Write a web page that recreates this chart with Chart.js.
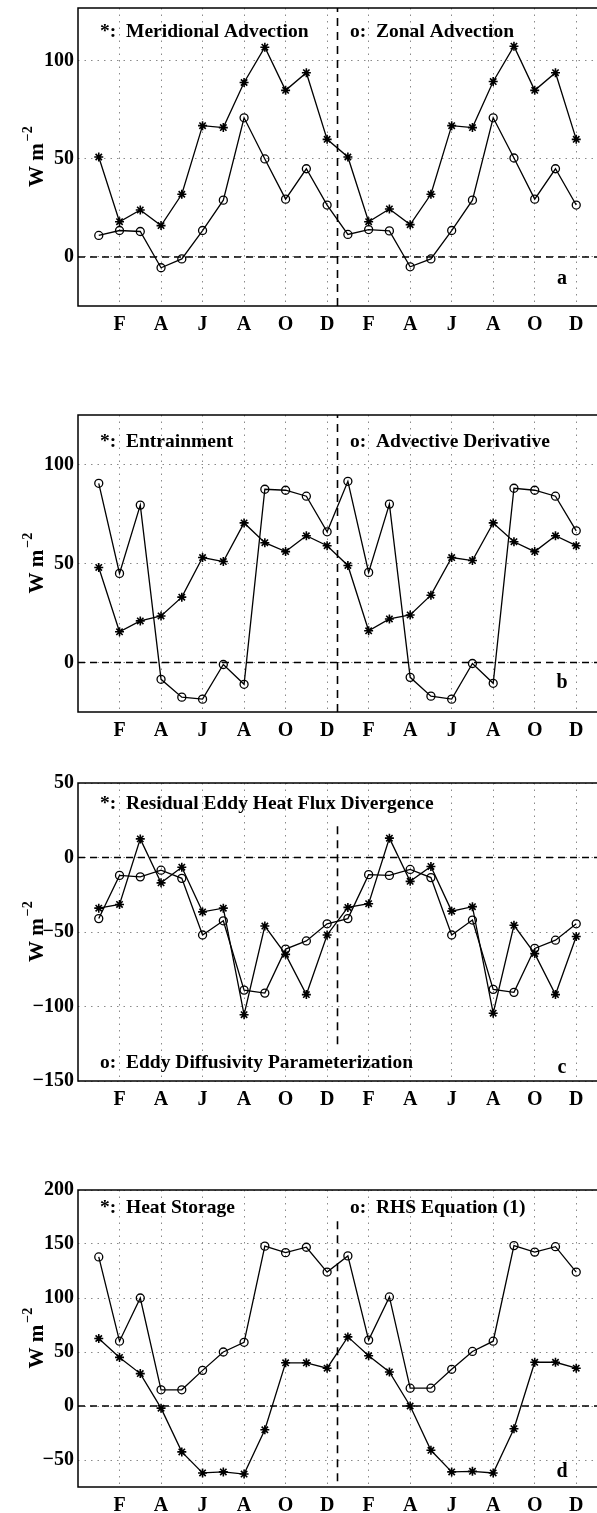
<!DOCTYPE html>
<html>
<head>
<meta charset="utf-8">
<script src="https://cdn.jsdelivr.net/npm/chart.js@4"></script>
<style>
  html, body { margin: 0; padding: 0; background: #fff; }
  body { width: 597px; height: 1513px; position: relative; overflow: hidden; }
  .panel { position: absolute; left: 0; }
</style>
</head>
<body>
<div class="panel" id="pa"><canvas id="cA"></canvas></div>
<div class="panel" id="pb"><canvas id="cB"></canvas></div>
<div class="panel" id="pc"><canvas id="cC"></canvas></div>
<div class="panel" id="pd"><canvas id="cD"></canvas></div>
<script>
// months of the two-year cycle (1 = Jan of year 1)
const months = [1, 2, 3, 4, 5, 6, 7, 8, 9, 10, 11, 12, 13, 14, 15, 16, 17, 18, 19, 20, 21, 22, 23, 24];
const xTickPos = [2, 4, 6, 8, 10, 12, 14, 16, 18, 20, 22, 24];
const xTickLabels = ["F", "A", "J", "A", "O", "D", "F", "A", "J", "A", "O", "D"];

// panel a
const meridional = [51, 18, 24, 16, 32, 67, 66, 89, 107, 85, 94, 60, 51, 18, 24.5, 16.5, 32, 67, 66, 89.5, 107.5, 85, 94, 60];
const zonal = [11, 13.5, 13, -5.5, -1, 13.5, 29, 71, 50, 29.5, 45, 26.5, 11.5, 14, 13.3, -5, -1, 13.5, 29, 71, 50.5, 29.5, 45, 26.5];
// panel b
const entrainment = [48, 15.5, 21, 23.5, 33, 53, 51, 70.5, 60.5, 56, 64, 59, 49, 16, 22, 24, 34, 53, 51.5, 70.5, 61, 56, 64, 59];
const advective = [90.5, 45, 79.5, -8.5, -17.5, -18.5, -1, -11, 87.5, 87, 84, 66, 91.5, 45.5, 80, -7.5, -17, -18.5, -0.5, -10.5, 88, 87, 84, 66.5];
// panel c
const residual = [-34, -31.5, 12.5, -17, -6.5, -36.5, -34, -105.5, -46, -65, -92, -52, -33.5, -31, 13, -16, -6, -36, -33, -104.5, -45.5, -64.5, -92, -53];
const eddyDiff = [-41, -12, -13, -8.5, -14, -52, -42.5, -89, -91, -61.5, -56, -44.5, -41, -11.5, -12, -8, -13.5, -52, -42, -88.5, -90.5, -61, -55.5, -44.5];
// panel d
const heatStorage = [62.5, 45, 30, -2, -42.5, -62, -61, -63, -22, 40, 40, 35, 64, 46.5, 31.5, 0, -41, -61, -60.5, -62, -21, 40.5, 40.5, 35];
const rhs = [138, 60, 100, 15, 15, 33, 50, 59, 148, 142, 147, 124, 139, 61, 101, 16.5, 16.5, 34, 50.5, 60, 148.5, 142.5, 147.5, 124];

const yTicksA = [0, 50, 100];
const yTicksB = [0, 50, 100];
const yTicksC = [-150, -100, -50, 0, 50];
const yTicksD = [-50, 0, 50, 100, 150, 200];

const FONT = "'Liberation Serif', 'Times New Roman', serif";
const PAD_TOP = 14, XAXIS_H = 26, YAXIS_W = 78;

function pts(vals) {
  return vals.map((v, i) => ({ x: months[i], y: v }));
}

function makePanel(id, c) {
  const canvas = document.getElementById(id);
  const h = (c.bottom - c.top) + PAD_TOP + XAXIS_H;
  canvas.width = 597;
  canvas.height = h;
  canvas.parentNode.style.top = (c.top - PAD_TOP) + "px";
  canvas.parentNode.style.width = "597px";
  canvas.parentNode.style.height = h + "px";

  const deco = {
    id: "deco" + id,
    afterDraw(chart) {
      const ctx = chart.ctx, a = chart.chartArea;
      ctx.save();
      // axes box (right side runs off the page)
      ctx.strokeStyle = "#000";
      ctx.lineWidth = 1.5;
      ctx.strokeRect(a.left, a.top, a.right - a.left + 4, a.bottom - a.top);
      // y title, W m^-2
      const cy = (a.top + a.bottom) / 2 - 5;
      ctx.translate(43, cy + 35);
      ctx.rotate(-Math.PI / 2);
      ctx.fillStyle = "#000";
      ctx.textBaseline = "alphabetic";
      ctx.textAlign = "left";
      ctx.font = "bold 21px " + FONT;
      ctx.fillText("W m", 0, 0);
      const w = ctx.measureText("W m").width;
      ctx.font = "bold 14px " + FONT;
      ctx.fillText("\u22122", w + 2, -11);
      ctx.restore();

      ctx.save();
      ctx.fillStyle = "#000";
      ctx.textBaseline = "alphabetic";
      ctx.textAlign = "left";
      ctx.font = "bold 19.5px " + FONT;
      c.notes.forEach(n => {
        const y = n.fromBottom ? a.bottom - n.dy : a.top + n.dy;
        ctx.fillText(n.text, n.x, y);
      });
      ctx.textAlign = "center";
      ctx.font = "bold 20px " + FONT;
      ctx.fillText(c.letter, 562, a.bottom - c.letterDy);
      ctx.restore();
    }
  };

  new Chart(canvas, {
    type: "line",
    data: {
      datasets: [
        {
          label: "zero",
          data: [{ x: 0, y: 0 }, { x: 25, y: 0 }],
          borderColor: "#000",
          borderWidth: 1.4,
          borderDash: [7, 5],
          pointRadius: 0
        },
        {
          label: "divider",
          data: [{ x: 12.5, y: c.divider[0] }, { x: 12.5, y: c.divider[1] }],
          borderColor: "#000",
          borderWidth: 1.6,
          borderDash: [8, 6],
          pointRadius: 0
        },
        {
          label: "star",
          data: pts(c.star),
          borderColor: "#000",
          borderWidth: 1.3,
          pointStyle: "star",
          pointRadius: 4.5,
          pointBorderWidth: 1.6,
          pointBorderColor: "#000",
          pointBackgroundColor: "#000",
          tension: 0
        },
        {
          label: "circle",
          data: pts(c.circle),
          borderColor: "#000",
          borderWidth: 1.3,
          pointStyle: "circle",
          pointRadius: 4,
          pointBorderWidth: 1.3,
          pointBorderColor: "#000",
          pointBackgroundColor: "rgba(0,0,0,0)",
          tension: 0
        }
      ]
    },
    options: {
      responsive: false,
      animation: false,
      devicePixelRatio: 1,
      layout: { autoPadding: false, padding: { top: PAD_TOP, left: 0, right: 0, bottom: 0 } },
      plugins: { legend: { display: false }, tooltip: { enabled: false } },
      scales: {
        x: {
          type: "linear",
          min: 0,
          max: 25,
          afterBuildTicks: s => { s.ticks = xTickPos.map(v => ({ value: v })); },
          afterFit: s => { s.height = XAXIS_H; s.paddingLeft = 0; s.paddingRight = 0; },
          grid: { color: "#8a8a8a", lineWidth: 1, drawTicks: false },
          border: { display: false, dash: [1.5, 5] },
          ticks: {
            autoSkip: false,
            maxRotation: 0,
            padding: 7,
            color: "#000",
            font: { family: FONT, size: 20, weight: "bold" },
            callback: v => xTickLabels[xTickPos.indexOf(v)] || ""
          }
        },
        y: {
          min: c.ymin,
          max: c.ymax,
          afterBuildTicks: s => { s.ticks = c.yTicks.map(v => ({ value: v })); },
          afterFit: s => { s.width = YAXIS_W; s.paddingTop = 0; s.paddingBottom = 0; },
          grid: { color: "#8a8a8a", lineWidth: 1, drawTicks: false },
          border: { display: false, dash: [1.5, 5] },
          ticks: {
            padding: 4,
            color: "#000",
            font: { family: FONT, size: 20, weight: "bold" },
            callback: v => (v < 0 ? "\u2212" + Math.abs(v) : String(v))
          }
        }
      }
    },
    plugins: [deco]
  });
}

makePanel("cA", {
  top: 8, bottom: 306, ymin: -25, ymax: 127, yTicks: yTicksA,
  star: meridional, circle: zonal, divider: [-25, 127],
  notes: [
    { text: "*:  Meridional Advection", x: 100, dy: 28.5 },
    { text: "o:  Zonal Advection", x: 350, dy: 28.5 }
  ],
  letter: "a", letterDy: 22.5
});
makePanel("cB", {
  top: 415, bottom: 712, ymin: -25, ymax: 125, yTicks: yTicksB,
  star: entrainment, circle: advective, divider: [-25, 125],
  notes: [
    { text: "*:  Entrainment", x: 100, dy: 31.5 },
    { text: "o:  Advective Derivative", x: 350, dy: 31.5 }
  ],
  letter: "b", letterDy: 24
});
makePanel("cC", {
  top: 783, bottom: 1081, ymin: -150, ymax: 50, yTicks: yTicksC,
  star: residual, circle: eddyDiff, divider: [21, -126],
  notes: [
    { text: "*:  Residual Eddy Heat Flux Divergence", x: 100, dy: 26 },
    { text: "o:  Eddy Diffusivity Parameterization", x: 100, dy: 13, fromBottom: true }
  ],
  letter: "c", letterDy: 8
});
makePanel("cD", {
  top: 1190, bottom: 1487, ymin: -75, ymax: 200, yTicks: yTicksD,
  star: heatStorage, circle: rhs, divider: [171, -75],
  notes: [
    { text: "*:  Heat Storage", x: 100, dy: 22.5 },
    { text: "o:  RHS Equation (1)", x: 350, dy: 22.5 }
  ],
  letter: "d", letterDy: 10
});
</script>
</body>
</html>
